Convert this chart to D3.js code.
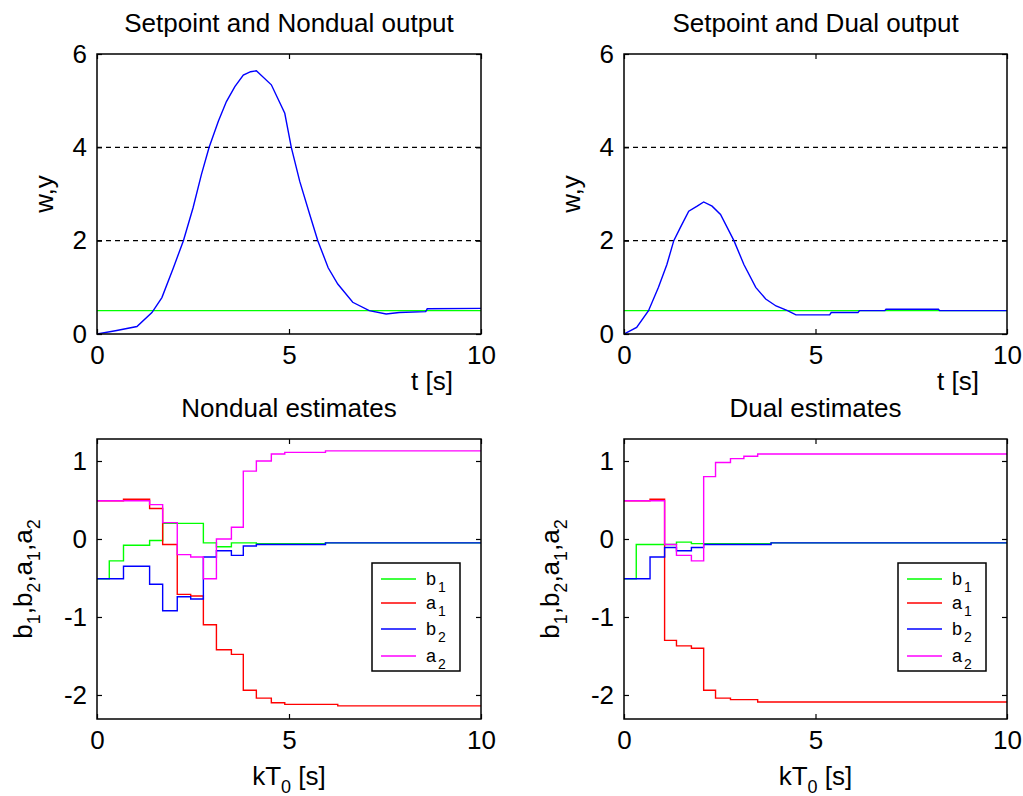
<!DOCTYPE html>
<html>
<head>
<meta charset="utf-8">
<script src="https://cdn.jsdelivr.net/npm/d3@7"></script>
<style>
  body { margin: 0; background: #fff; }
  text { font-family: "Liberation Sans", Arial, sans-serif; fill: #000; }
</style>
</head>
<body>
<svg id="fig" width="1023" height="796"></svg>
<script>
// ---- axis ticks
const xTicks = [0, 5, 10];
const outTicks = [0, 2, 4, 6];
const estTicks = [-2, -1, 0, 1];

// ---- setpoint and reference levels
const setpoint = 0.5;
const refLevels = [2, 4];

// ---- nondual output y(t)
const nondualT = [0, 0.48, 1.04, 1.43, 1.69, 1.99, 2.25, 2.5, 2.72, 2.92, 3.16, 3.37, 3.59, 3.81, 4.0, 4.15,
    4.54, 4.89, 5.06, 5.28, 5.54, 5.75, 6.02, 6.27, 6.66, 7.09, 7.53, 7.87, 8.56, 8.6, 10];
const nondualY = [0, 0.07, 0.16, 0.46, 0.78, 1.42, 2.0, 2.7, 3.42, 4.0, 4.56, 4.98, 5.30, 5.55, 5.62, 5.64,
    5.34, 4.73, 4.0, 3.27, 2.56, 2.0, 1.42, 1.07, 0.68, 0.50, 0.43, 0.46, 0.48, 0.54, 0.55];

// ---- dual output y(t)
const dualT = [0, 0.33, 0.64, 0.90, 1.12, 1.30, 1.47, 1.69, 1.91, 2.08, 2.30, 2.52, 2.87, 3.13, 3.44, 3.70,
    3.97, 4.27, 4.49, 5.37, 5.41, 6.11, 6.15, 6.81, 6.84, 8.21, 8.24, 10];
const dualY = [0, 0.14, 0.50, 1.0, 1.49, 2.0, 2.28, 2.63, 2.74, 2.83, 2.74, 2.56, 2.0, 1.49, 1.0, 0.75,
    0.60, 0.50, 0.41, 0.41, 0.46, 0.46, 0.50, 0.50, 0.53, 0.53, 0.50, 0.50];

// ---- nondual estimates (step starts)
const nondualK = [0, 0.32, 0.69, 1.37, 1.71, 2.09, 2.44, 2.77, 3.11, 3.50, 3.81, 4.15, 4.54, 4.89, 5.95, 6.27];
const nondualB1 = [-0.51, -0.28, -0.08, -0.02, 0.20, 0.20, 0.20, -0.05, -0.10, -0.05, -0.05, -0.06, -0.06, -0.06, -0.05, -0.05];
const nondualA1 = [0.49, 0.49, 0.51, 0.39, -0.07, -0.71, -0.73, -1.10, -1.42, -1.48, -1.94, -2.04, -2.10, -2.12, -2.12, -2.14];
const nondualB2 = [-0.51, -0.51, -0.35, -0.58, -0.92, -0.74, -0.77, -0.23, -0.15, -0.21, -0.09, -0.07, -0.07, -0.07, -0.05, -0.05];
const nondualA2 = [0.49, 0.49, 0.49, 0.44, 0.21, -0.20, -0.23, -0.51, 0.00, 0.15, 0.87, 1.00, 1.09, 1.11, 1.13, 1.13];

// ---- dual estimates (step starts)
const dualK = [0, 0.32, 0.68, 1.06, 1.37, 1.76, 2.08, 2.39, 2.78, 3.13, 3.49, 3.84];
const dualB1 = [-0.51, -0.07, -0.07, -0.07, -0.04, -0.06, -0.06, -0.06, -0.06, -0.06, -0.06, -0.05];
const dualA1 = [0.49, 0.49, 0.51, -1.30, -1.37, -1.40, -1.94, -2.04, -2.06, -2.06, -2.09, -2.09];
const dualB2 = [-0.51, -0.51, -0.23, -0.11, -0.15, -0.11, -0.07, -0.07, -0.07, -0.07, -0.07, -0.05];
const dualA2 = [0.49, 0.49, 0.49, -0.07, -0.21, -0.28, 0.80, 0.98, 1.03, 1.06, 1.09, 1.09];

// legend order (same as plot order) and y-label order
const estNames = [['b', '1'], ['a', '1'], ['b', '2'], ['a', '2']];
const estLabel = [['b', '1'], ['b', '2'], ['a', '1'], ['a', '2']];
const estColors = ['#00ff00', '#ff0000', '#0000ff', '#ff00ff'];

const svg = d3.select('#fig');
const H = 280;
const FS = 26;

function panel(id, px, py, w, yDomain, yTicks, title) {
    const x = d3.scaleLinear().domain([0, 10]).range([px, px + w]);
    const y = d3.scaleLinear().domain(yDomain).range([py + H, py]);

    svg.append('clipPath').attr('id', 'clip' + id)
        .append('rect').attr('x', px).attr('y', py).attr('width', w).attr('height', H);

    const plot = svg.append('g').attr('clip-path', `url(#clip${id})`);

    const axes = svg.append('g');
    const styleAxis = g => {
        g.attr('font-size', FS).attr('font-family', null);
        g.select('.domain').remove();
        g.selectAll('line').attr('stroke', '#000').attr('stroke-width', 1.2);
    };
    axes.append('g').attr('transform', `translate(0,${py + H})`)
        .call(d3.axisBottom(x).tickValues(xTicks).tickSize(-5).tickSizeOuter(0).tickPadding(12).tickFormat(d3.format('d')))
        .call(styleAxis);
    axes.append('g').attr('transform', `translate(0,${py})`)
        .call(d3.axisTop(x).tickValues(xTicks).tickSize(-5).tickSizeOuter(0).tickFormat(''))
        .call(styleAxis);
    axes.append('g').attr('transform', `translate(${px},0)`)
        .call(d3.axisLeft(y).tickValues(yTicks).tickSize(-5).tickSizeOuter(0).tickPadding(10).tickFormat(d => String(d)))
        .call(styleAxis);
    axes.append('g').attr('transform', `translate(${px + w},0)`)
        .call(d3.axisRight(y).tickValues(yTicks).tickSize(-5).tickSizeOuter(0).tickFormat(''))
        .call(styleAxis);
    axes.append('rect')
        .attr('x', px).attr('y', py).attr('width', w).attr('height', H)
        .attr('fill', 'none').attr('stroke', '#000').attr('stroke-width', 1.5);

    svg.append('text')
        .attr('x', px + w / 2).attr('y', py - 22)
        .attr('text-anchor', 'middle').attr('font-size', FS)
        .text(title);

    return { x, y, plot, px, py, w };
}

function outputPanel(id, px, title, T, Y) {
    const p = panel(id, px, 54, px < 300 ? 384 : 383, [0, 6], outTicks, title);
    const line = d3.line().x(d => p.x(d[0])).y(d => p.y(d[1]));

    p.plot.selectAll('.ref').data(refLevels).join('line')
        .attr('x1', p.x(0)).attr('x2', p.x(10))
        .attr('y1', d => p.y(d)).attr('y2', d => p.y(d))
        .attr('stroke', '#000').attr('stroke-width', 1.3).attr('stroke-dasharray', '5,4');

    p.plot.append('path')
        .attr('d', line([[0, setpoint], [10, setpoint]]))
        .attr('fill', 'none').attr('stroke', '#00ff00').attr('stroke-width', 1.4);

    p.plot.append('path')
        .attr('d', line(T.map((t, i) => [t, Y[i]])))
        .attr('fill', 'none').attr('stroke', '#0000ff').attr('stroke-width', 1.4);

    // w,y label
    svg.append('text')
        .attr('transform', `translate(${px - 44},${p.py + H / 2}) rotate(-90)`)
        .attr('text-anchor', 'middle').attr('font-size', FS)
        .text('w,y');

    // t [s] label
    svg.append('text')
        .attr('x', p.x(10) - 49).attr('y', p.py + H + 56)
        .attr('text-anchor', 'middle').attr('font-size', FS)
        .text('t [s]');
}

function estimatePanel(id, px, title, K, series) {
    const p = panel(id, px, 439, px < 300 ? 384 : 383, [-2.308, 1.282], estTicks, title);
    const step = d3.line().x(d => p.x(d[0])).y(d => p.y(d[1])).curve(d3.curveStepAfter);

    series.forEach((v, j) => {
        const pts = K.map((t, i) => [t, v[i]]).concat([[10, v[v.length - 1]]]);
        p.plot.append('path')
            .attr('d', step(pts))
            .attr('fill', 'none').attr('stroke', estColors[j]).attr('stroke-width', 1.4);
    });

    // y label with subscripts
    const yl = svg.append('text')
        .attr('transform', `translate(${px - 65},${p.py + H / 2}) rotate(-90)`)
        .attr('text-anchor', 'middle').attr('font-size', FS);
    estLabel.forEach((n, i) => {
        yl.append('tspan').attr('dy', i === 0 ? 0 : -8).text((i === 0 ? '' : ',') + n[0]);
        yl.append('tspan').attr('dy', 8).attr('font-size', 18).text(n[1]);
    });

    // x label kT0 [s]
    const xl = svg.append('text')
        .attr('x', p.x(5)).attr('y', p.py + H + 66)
        .attr('text-anchor', 'middle').attr('font-size', FS);
    xl.append('tspan').text('kT');
    xl.append('tspan').attr('dy', 8).attr('font-size', 18).text('0');
    xl.append('tspan').attr('dy', -8).text(' [s]');

    // legend
    const lx = p.x(10) - 109, ly = 563;
    const lg = svg.append('g');
    lg.append('rect')
        .attr('x', lx).attr('y', ly).attr('width', 88).attr('height', 108)
        .attr('fill', '#fff').attr('stroke', '#000').attr('stroke-width', 1.5);
    const rows = [16, 40, 66, 93];
    estNames.forEach((n, i) => {
        lg.append('line')
            .attr('x1', lx + 9).attr('x2', lx + 44)
            .attr('y1', ly + rows[i]).attr('y2', ly + rows[i])
            .attr('stroke', estColors[i]).attr('stroke-width', 1.4);
        const t = lg.append('text')
            .attr('x', lx + 54).attr('y', ly + rows[i] + 6)
            .attr('font-size', 18);
        t.append('tspan').text(n[0]);
        t.append('tspan').attr('dx', 2).attr('dy', 7).attr('font-size', 14).text(n[1]);
    });
}

outputPanel('a', 97, 'Setpoint and Nondual output', nondualT, nondualY);
outputPanel('b', 624, 'Setpoint and Dual output', dualT, dualY);
estimatePanel('c', 97, 'Nondual estimates', nondualK, [nondualB1, nondualA1, nondualB2, nondualA2]);
estimatePanel('d', 624, 'Dual estimates', dualK, [dualB1, dualA1, dualB2, dualA2]);
</script>
</body>
</html>
